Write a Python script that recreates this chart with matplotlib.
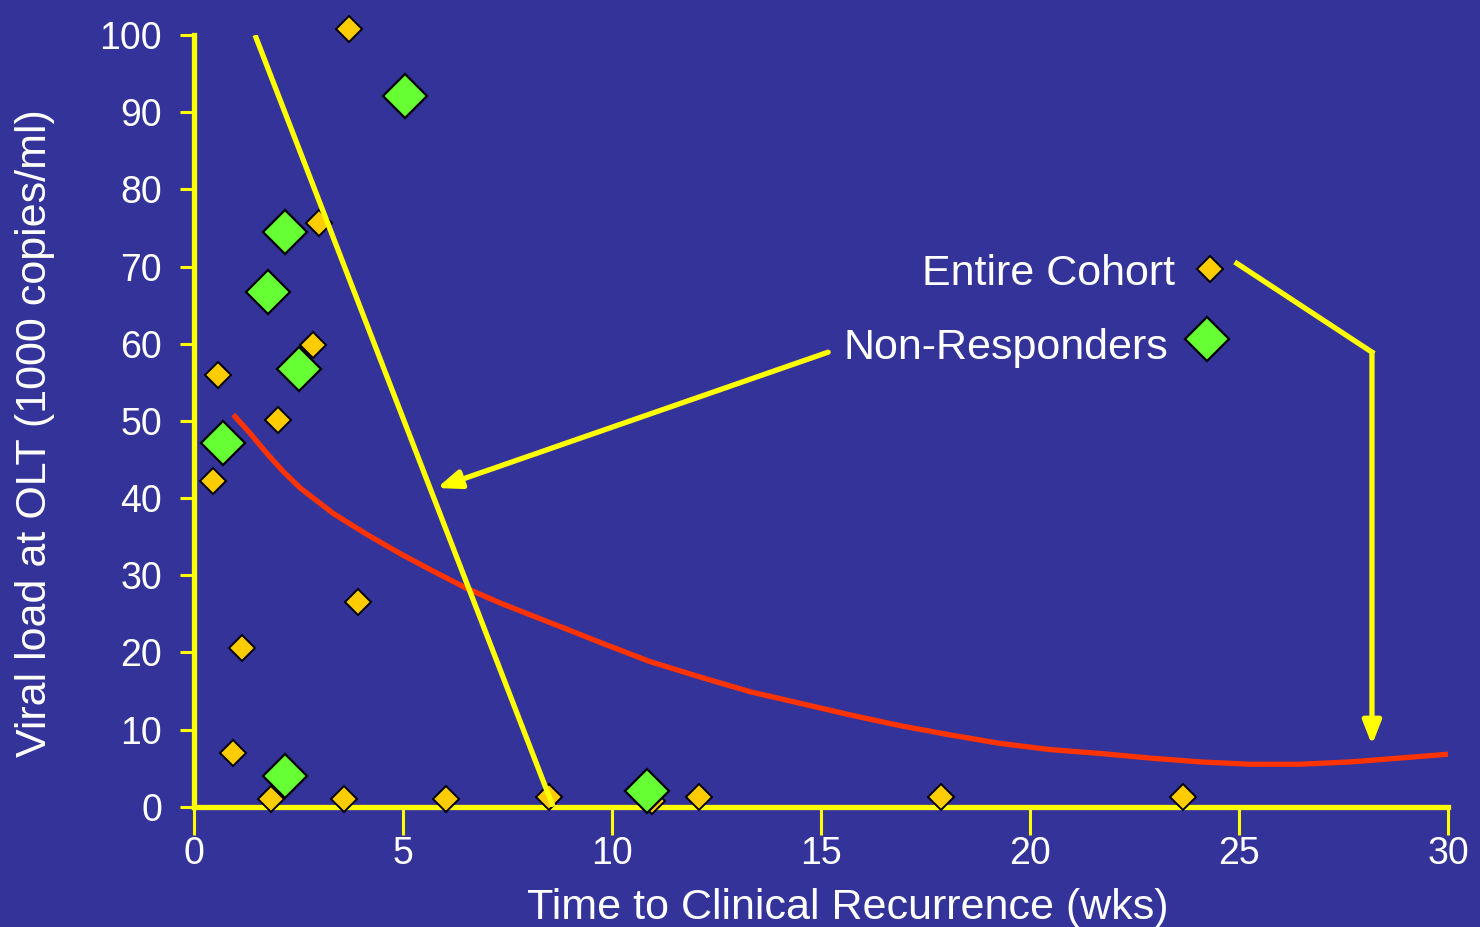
import numpy as np
import matplotlib
matplotlib.use('Agg')
from matplotlib import pyplot as plt

# colores
fondo = '#343399'
amarillo = '#FFFF00'
naranja = '#FFCC00'
verde = '#66FF33'
rojo = '#FF3300'

# Cohorte completa (semanas, carga viral en miles de copias/ml)
semanas_cohorte = [3.7, 3.0, 2.85, 0.57, 2.0, 0.45, 3.92, 1.15, 0.93, 1.84, 3.59, 6.03, 8.49, 10.95, 12.08, 17.87, 23.66]
carga_cohorte = [100.8, 75.7, 59.8, 55.9, 50.1, 42.2, 26.5, 20.6, 6.9, 1.0, 1.0, 1.0, 1.3, 0.8, 1.3, 1.3, 1.3]

# No respondedores
semanas_nr = [5.05, 2.18, 1.77, 2.51, 0.69, 2.18, 10.84]
carga_nr = [92.1, 74.5, 66.7, 56.7, 47.1, 4.0, 2.0]

# Tendencia de los no respondedores (recta)
recta_x = [1.46, 8.59]
recta_y = [100, 0]

# Tendencia de la cohorte completa (curva)
curva_x = [0.94, 1.34, 1.74, 2.14, 2.54, 3.33, 4.13, 4.93, 5.73, 6.52, 7.32, 8.12, 8.92, 9.71,
           10.91, 12.11, 13.30, 14.50, 15.69, 16.89, 18.09, 19.28, 20.48, 21.67, 22.87, 24.07,
           25.26, 26.46, 27.66, 28.85, 30.0]
curva_y = [50.8, 48.4, 45.8, 43.4, 41.3, 38.0, 35.3, 32.8, 30.5, 28.3, 26.4, 24.7, 23.0, 21.3,
           18.8, 16.8, 14.9, 13.4, 11.9, 10.5, 9.3, 8.2, 7.4, 6.9, 6.3, 5.8,
           5.5, 5.5, 5.8, 6.3, 6.8]

plt.rcParams['font.family'] = ['Liberation Sans', 'DejaVu Sans']

fig = plt.figure(figsize=(14.8, 9.27), dpi=100, facecolor=fondo)
ax = fig.add_axes([0.1311, 0.1298, 0.8473, 0.8324])
ax.set_facecolor(fondo)

ax.plot(semanas_cohorte, carga_cohorte, linestyle='none', marker='D', markersize=13,
        markerfacecolor=naranja, markeredgecolor='black', markeredgewidth=1.4, zorder=4, clip_on=False)
ax.plot(semanas_nr, carga_nr, linestyle='none', marker='D', markersize=22,
        markerfacecolor=verde, markeredgecolor='black', markeredgewidth=1.6, zorder=5, clip_on=False)
ax.plot(curva_x, curva_y, color=rojo, linewidth=3.8, zorder=6, solid_capstyle='butt',
        solid_joinstyle='round')
ax.plot(recta_x, recta_y, color=amarillo, linewidth=3.8, zorder=7, solid_capstyle='butt')

ax.set_xlim(0, 30)
ax.set_ylim(0, 100)
ax.set_xticks(range(0, 31, 5))
ax.set_yticks(range(0, 101, 10))

for lado in ['top', 'right']:
    ax.spines[lado].set_visible(False)
for lado in ['left', 'bottom']:
    ax.spines[lado].set_color(amarillo)
    ax.spines[lado].set_linewidth(3.8)
    ax.spines[lado].set_zorder(3)

ax.tick_params(axis='x', direction='out', length=20, width=2.2, color=amarillo,
               labelcolor='white', labelsize=27, pad=1)
ax.tick_params(axis='y', direction='out', length=10, width=2.2, color=amarillo,
               labelcolor='white', labelsize=27, pad=13)

fig.text(848 / 1480, (927 - 919) / 927, 'Time to Clinical Recurrence (wks)', color='white',
         fontsize=31, ha='center', va='baseline')
fig.text(35 / 1480, (927 - 433) / 927, 'Viral load at OLT (1000 copies/ml)', color='white',
         fontsize=31, ha='center', va='center', rotation=90)

# leyenda hecha a mano
ax.text(23.47, 67.6, 'Entire Cohort', color='white', fontsize=31, ha='right', va='baseline')
ax.text(23.3, 58.0, 'Non-Responders', color='white', fontsize=31, ha='right', va='baseline')
ax.plot([24.31], [69.7], linestyle='none', marker='D', markersize=13,
        markerfacecolor=naranja, markeredgecolor='black', markeredgewidth=1.4, zorder=5)
ax.plot([24.23], [60.6], linestyle='none', marker='D', markersize=22,
        markerfacecolor=verde, markeredgecolor='black', markeredgewidth=1.6, zorder=5)

# flechas
flecha = dict(arrowstyle='-|>,head_length=1.4,head_width=0.55', color=amarillo, lw=3.8,
              shrinkA=0, shrinkB=0)
ax.annotate('', xy=(5.81, 41.3), xytext=(15.17, 58.9), arrowprops=flecha, zorder=8)
ax.plot([24.95, 28.18], [70.4, 58.9], color=amarillo, linewidth=3.8, zorder=8)
ax.annotate('', xy=(28.18, 8.0), xytext=(28.18, 58.9), arrowprops=flecha, zorder=8)

fig.savefig('out.png', dpi=100, facecolor=fondo)
